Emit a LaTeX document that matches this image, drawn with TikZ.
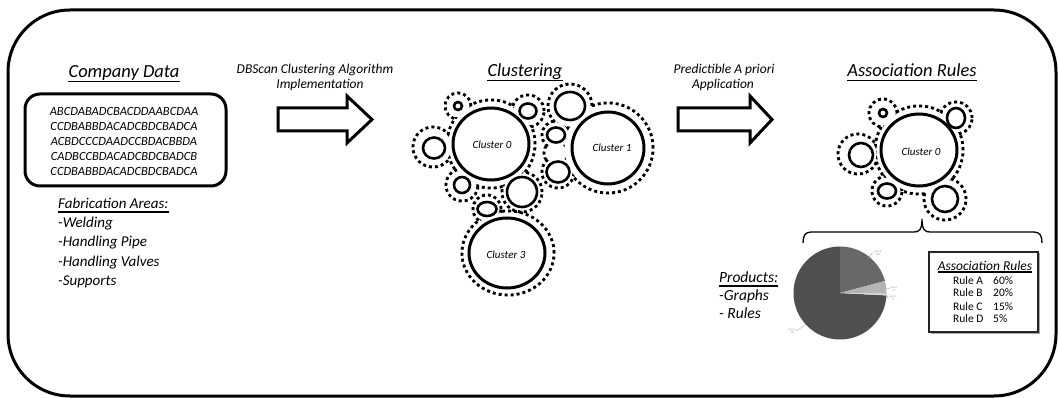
\documentclass[tikz,border=0pt]{standalone}
\usepackage{fontspec}
\setmainfont{Carlito}
\usetikzlibrary{calc}
\definecolor{piedark}{HTML}{4F4F4F}
\definecolor{piemid}{HTML}{686868}
\definecolor{pielight}{HTML}{B4B4B4}
\definecolor{pielighter}{HTML}{D8D8D8}
\definecolor{labelgray}{HTML}{9A9A9A}
\begin{document}
\begin{tikzpicture}[x=1pt,y=-1pt,
  outerframe/.style={line width=3pt,rounded corners=62pt},
  heading/.style={font=\fontsize{18.5}{22}\selectfont\itshape,inner sep=0pt,anchor=base},
  uline/.style={line width=1.3pt},
  datatext/.style={font=\fontsize{12.5}{14.8}\selectfont\itshape,align=center},
  databox/.style={draw,line width=3pt,rounded corners=15pt,minimum width=201pt,minimum height=92pt,inner sep=0pt},
  listtext/.style={font=\fontsize{15}{18}\selectfont\itshape,inner sep=0pt,anchor=base west},
  arrowlabel/.style={font=\fontsize{13.5}{16}\selectfont\itshape,inner sep=0pt,anchor=base},
  blockarrow/.style={line width=3pt,miter limit=10},
  ring/.style={line width=3pt,dash pattern=on 3pt off 3pt},
  solidring/.style={line width=3pt},
  smallring/.style={line width=2.6pt},
  clabel/.style={font=\fontsize{11}{13}\selectfont\itshape,inner sep=0pt},
  brace/.style={line width=1.3pt},
  tinylabel/.style={font=\fontsize{2.6}{3}\selectfont,text=labelgray,inner sep=0pt,align=center},
  leader/.style={labelgray,line width=0.3pt},
  rulebox/.style={draw=black!85,line width=1.5pt,minimum width=109pt,minimum height=80pt,inner sep=0pt},
  ruletitle/.style={font=\fontsize{13.5}{16}\selectfont\itshape,inner sep=0pt,anchor=base},
  rulerow/.style={font=\fontsize{11.5}{13}\selectfont,inner sep=0pt,anchor=base west},
]
\useasboundingbox (0,0) rectangle (1058,398);

% outer frame
\draw[outerframe] (8,10) rectangle (1056,396);

% ---------- company data ----------
\node[heading] (tcd) at (124,78) {Company Data};
\draw[uline] ([yshift=-3.5pt]tcd.base west) -- ([yshift=-3.5pt]tcd.base east);

\node[databox] (data) at (125.5,140) {};
\node[datatext] (datatxt) at (124,141.5) {ABCDABADCBACDDAABCDAA\\CCDBABBDACADCBDCBADCA\\ACBDCCCDAADCCBDACBBDA\\CADBCCBDACADCBDCBADCB\\CCDBABBDACADCBDCBADCA};

\node[listtext] (fab) at (58,209) {Fabrication Areas:};
\draw[uline] ([yshift=-3pt]fab.base west) -- ([yshift=-3pt]fab.base east);
\foreach \t/\y/\n in {-Welding/228/fa, -Handling Pipe/247/fb, -Handling Valves/266/fc, -Supports/285/fd}
  \node[listtext] (\n) at (58,\y) {\t};

% ---------- first step arrow ----------
\node[arrowlabel] (lab1a) at (315,74) {DBScan Clustering Algorithm};
\node[arrowlabel] (lab1b) at (320,89) {Implementation};
\draw[blockarrow] (278,108) -- (347,108) -- (347,96) -- (372,119.5) -- (347,143) -- (347,131) -- (278,131) -- cycle;

% ---------- clustering ----------
\node[heading] (tcl) at (525,77) {Clustering};
\draw[uline] ([yshift=-3.5pt]tcl.base west) -- ([yshift=-3.5pt]tcl.base east);

% dotted outline of cluster 0 and its neighbours
\foreach \cx/\cy/\r in {491/144/44, 458/106/13, 528/111/16, 433/147/20, 462/185/16, 522/192/20}
  \draw[ring] (\cx,\cy) circle[radius=\r pt];
\foreach \cx/\cy/\r in {491/144/44, 458/106/13, 528/111/16, 433/147/20, 462/185/16, 522/192/20}
  \fill[white] (\cx,\cy) circle[radius=\r pt-1.6pt];
% dotted outline of cluster 1 and its neighbours
\foreach \cx/\cy/\r in {608/148/45, 570/106/22, 556/135/14, 556/153/12, 558/172/16}
  \draw[ring] (\cx,\cy) circle[radius=\r pt];
\foreach \cx/\cy/\r in {608/148/45, 570/106/22, 556/135/14, 556/153/12, 558/172/16}
  \fill[white] (\cx,\cy) circle[radius=\r pt-1.6pt];
% dotted outline of cluster 3
\draw[ring] (508,253) circle[x radius=46pt,y radius=42pt];
\draw[ring] (487,209) circle[radius=14pt];
\fill[white] (508,253) circle[x radius=44.4pt,y radius=40.4pt];
\fill[white] (487,209) circle[radius=12.4pt];

% solid circles
\draw[solidring] (491,144) circle[x radius=38pt,y radius=36pt];
\draw[solidring] (608,148) circle[radius=36pt];
\draw[solidring] (507,253) circle[x radius=38pt,y radius=35pt];
\draw[smallring] (458,106) circle[radius=4pt];
\draw[smallring] (528,111) circle[x radius=8.5pt,y radius=7.5pt];
\draw[smallring] (434,148) circle[x radius=11pt,y radius=10.5pt];
\draw[smallring] (462,185) circle[radius=8pt];
\draw[smallring] (522,192) circle[radius=15pt];
\draw[smallring] (556,135) circle[x radius=9pt,y radius=7.5pt];
\draw[smallring] (570,106) circle[x radius=15pt,y radius=14pt];
\draw[smallring] (558,172) circle[x radius=11.5pt,y radius=10.5pt];
\draw[smallring] (487,209) circle[x radius=9.5pt,y radius=7pt];

\node[clabel] (c0) at (492,145) {Cluster 0};
\node[clabel] (c1) at (612,148) {Cluster 1};
\node[clabel] (c3) at (506,255) {Cluster 3};

% ---------- second step arrow ----------
\node[arrowlabel] (lab2a) at (724,74) {Predictible A priori};
\node[arrowlabel] (lab2b) at (723,89) {Application};
\draw[blockarrow] (678,108) -- (750,108) -- (750,96) -- (772,119.5) -- (750,143) -- (750,131) -- (678,131) -- cycle;

% ---------- association rules ----------
\node[heading] (tar) at (912,77) {Association Rules};
\draw[uline] ([yshift=-3.5pt]tar.base west) -- ([yshift=-3.5pt]tar.base east);

\foreach \cx/\cy/\r in {919/150/44, 883/113/14, 956/118/16, 858/154/20, 887/191/15, 945/199/21}
  \draw[ring] (\cx,\cy) circle[radius=\r pt];
\foreach \cx/\cy/\r in {919/150/44, 883/113/14, 956/118/16, 858/154/20, 887/191/15, 945/199/21}
  \fill[white] (\cx,\cy) circle[radius=\r pt-1.6pt];

\draw[solidring] (919,150) circle[x radius=38pt,y radius=36pt];
\draw[smallring] (883,113) circle[radius=4pt];
\draw[smallring] (956,118) circle[x radius=9pt,y radius=10pt];
\draw[smallring] (861,155) circle[radius=12pt];
\draw[smallring] (887,191) circle[x radius=9pt,y radius=7.5pt];
\draw[smallring] (945,199) circle[radius=13pt];
\node[clabel] (rc0) at (921,152) {Cluster 0};

% brace over the results
\coordinate (bl) at (803,243);
\coordinate (bt) at (922,219);
\coordinate (br) at (1042,243);
\draw[brace] (bl) .. controls (803,236) and (805,232) .. (811,232) -- (914,232)
  .. controls (919,232) and (922,230) .. (bt)
  .. controls (922,230) and (925,232) .. (930,232) -- (1034,232)
  .. controls (1040,232) and (1042,236) .. (br);

% products
\node[listtext,font=\fontsize{15.5}{18}\selectfont\itshape] (prod) at (719,283) {Products:};
\draw[uline] ([yshift=-3pt]prod.base west) -- ([yshift=-3pt]prod.base east);
\node[listtext,font=\fontsize{15.5}{18}\selectfont\itshape] (pg) at (719,301) {-Graphs};
\node[listtext,font=\fontsize{15.5}{18}\selectfont\itshape] (pr) at (719,318) {- Rules};

% pie chart
\coordinate (pc) at (840,293);
\begin{scope}[shift={(pc)},x=1pt,y=1pt]
  \fill[piedark] (0,0) -- (90:46.5) arc[start angle=90,end angle=357,radius=46.5] -- cycle;
  \fill[piemid] (0,0) -- (15:46.5) arc[start angle=15,end angle=90,radius=46.5] -- cycle;
  \fill[pielight] (0,0) -- (-1:46.5) arc[start angle=-1,end angle=15,radius=46.5] -- cycle;
  \fill[pielighter] (0,0) -- (-3:46.5) arc[start angle=-3,end angle=-1,radius=46.5] -- cycle;
\end{scope}
\node[tinylabel] (pl1) at (878,253) {Rule B\\22\%};
\node[tinylabel] (pl2) at (894,289) {Rule C\\4\%};
\node[tinylabel] (pl3) at (893,298) {Rule D\\1\%};
\node[tinylabel] (pl4) at (792,331) {Rule A\\73\%};
\draw[leader] (868,259) -- (872,253) -- (pl1.west);
\draw[leader] (886,288) -- (pl2.west);
\draw[leader] (886,294) -- (888,298) -- (pl3.west);
\draw[leader] (806,324) -- (798,330) -- (pl4.east);

% rules table, with a faint shadow
\fill[black!35] (930.5,253.5) rectangle (1039.5,333.5);
\node[rulebox,fill=white] (rules) at (983.5,292) {};
\node[ruletitle] (rt) at (985,270) {Association Rules};
\draw[line width=1.1pt] ([yshift=-2pt]rt.base west) -- ([yshift=-2pt]rt.base east);
\foreach \a/\b/\y/\n in {A/60/284/ra, B/20/297/rb, C/15/310/rc, D/5/323/rd}{
  \node[rulerow] (\n l) at (953,\y) {Rule \a};
  \node[rulerow] (\n p) at (993,\y) {\b\%};
}
\end{tikzpicture}
\end{document}
